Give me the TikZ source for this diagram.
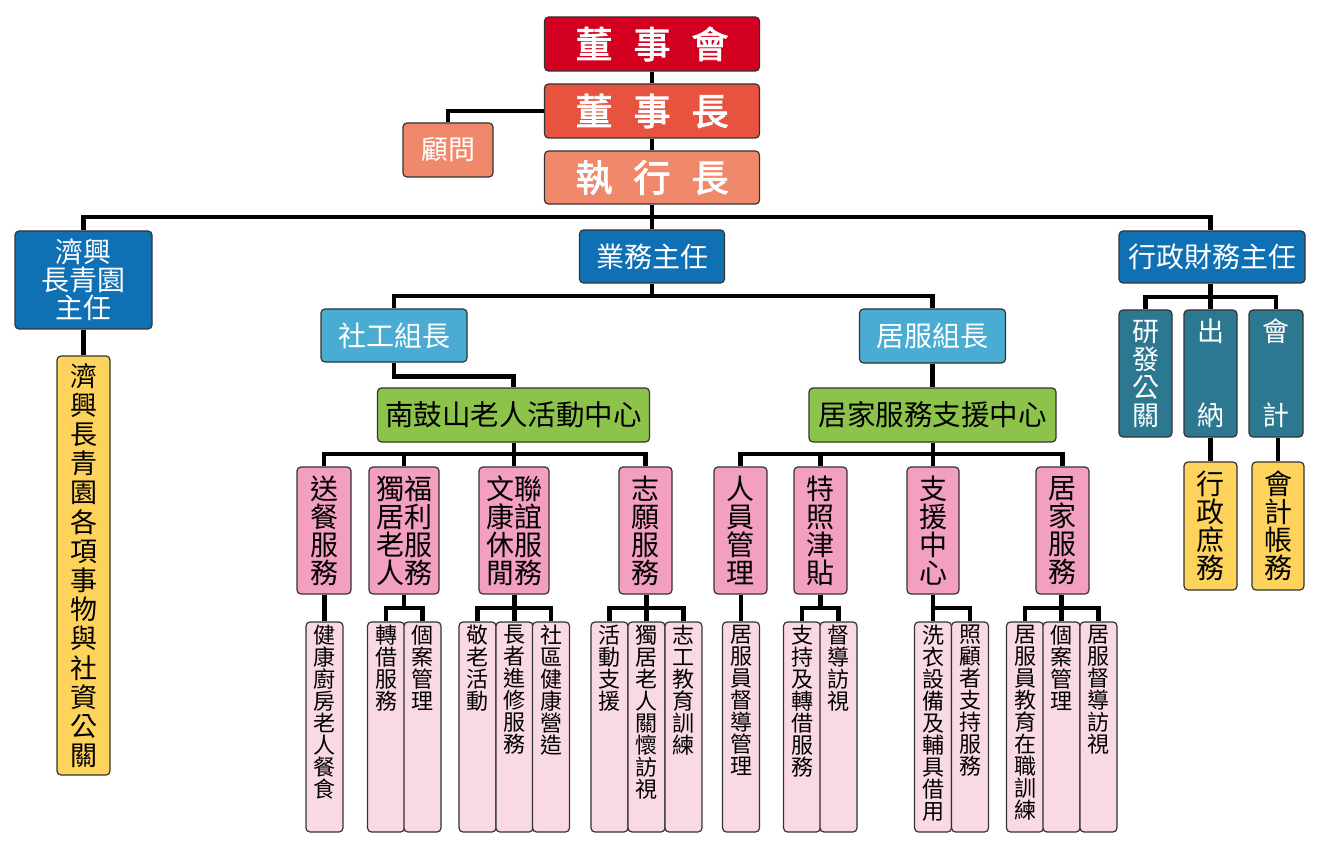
\documentclass[tikz,border=0pt]{standalone}
\usepackage{fontspec}
\setmainfont{Noto Sans CJK TC}
\newfontfamily\cjkbold{Noto Sans CJK TC}[FakeBold=2.5]
\definecolor{cRed}{HTML}{D3011F}
\definecolor{cRed2}{HTML}{E8533F}
\definecolor{cSalmon}{HTML}{F0896B}
\definecolor{cBlue}{HTML}{1070B4}
\definecolor{cLBlue}{HTML}{4BACD3}
\definecolor{cGreen}{HTML}{8DC34B}
\definecolor{cPink}{HTML}{F29FC0}
\definecolor{cLPink}{HTML}{FAD9E6}
\definecolor{cYellow}{HTML}{FED35B}
\definecolor{cTeal}{HTML}{2C7891}
\definecolor{cBorder}{HTML}{333333}
\newcommand\coltxt[1]{\parbox[c][210pt][t]{37pt}{\centering\vspace*{3pt}#1}}
\begin{document}
\begin{tikzpicture}[x=1pt,y=-1pt,
  box/.style={draw=cBorder, line width=1.2pt, rounded corners=4pt, inner sep=0pt, align=center},
  topbox/.style={box, minimum width=215, text=white, font=\cjkbold\fontsize{37}{40}\selectfont},
  bluebox/.style={box, fill=cBlue, text=white, font=\fontsize{28}{28}\selectfont},
  lbluebox/.style={box, fill=cLBlue, text=white, minimum width=146, font=\fontsize{28}{28}\selectfont},
  greenbox/.style={box, fill=cGreen, text=black, minimum height=54, font=\fontsize{28.5}{28}\selectfont},
  pinkbox/.style={box, fill=cPink, text=black, minimum height=127, font=\fontsize{28}{28}\selectfont},
  childbox/.style={box, fill=cLPink, text=black, minimum width=37, minimum height=210, font=\fontsize{22}{22}\selectfont},
  tealbox/.style={box, fill=cTeal, text=white, minimum width=53, minimum height=127, font=\fontsize{27}{28}\selectfont},
  yelbox/.style={box, fill=cYellow, text=black, minimum width=53, font=\fontsize{28}{28}\selectfont},
  conn/.style={line width=4.5pt, black}
]
\useasboundingbox (0,0) rectangle (1320,850);

% ---- top
\node[topbox, fill=cRed, minimum height=54] (dsh) at (652,44) {董\hspace{21pt}事\hspace{21pt}會};
\node[topbox, fill=cRed2, minimum height=54] (dsz) at (652,111) {董\hspace{21pt}事\hspace{21pt}長};
\node[box, fill=cSalmon, text=white, minimum width=90, minimum height=54, font=\fontsize{27}{28}\selectfont] (gw) at (448,150) {顧問};
\node[topbox, fill=cSalmon, minimum height=53] (zxz) at (652,177.5) {執\hspace{21pt}行\hspace{21pt}長};

% ---- second level
\node[bluebox, minimum width=137, minimum height=98] (jx) at (83.5,280) {濟興\\長青園\\主任};
\node[bluebox, minimum width=145, minimum height=53] (ywzr) at (652,256.5) {業務主任};
\node[bluebox, minimum width=186, minimum height=52] (xz) at (1212,257) {行政財務主任};

\node[yelbox, minimum height=419, font=\fontsize{27}{29.2}\selectfont] (jxy) at (83.5,565.5) {濟\\興\\長\\青\\園\\各\\項\\事\\物\\與\\社\\資\\公\\關};

% ---- group leaders
\node[lbluebox, minimum height=53] (sg) at (394,335.5) {社工組長};
\node[lbluebox, minimum height=54] (jf) at (932.5,336) {居服組長};

\node[greenbox, minimum width=272] (ngs) at (513.5,415) {南鼓山老人活動中心};
\node[greenbox, minimum width=247] (jjs) at (932.5,415) {居家服務支援中心};

% ---- pink parents
\node[pinkbox, minimum width=54] (p1) at (324,530.5) {送\\餐\\服\\務};
\node[pinkbox, minimum width=70] (p2) at (404,530.5) {獨福\\居利\\老服\\人務};
\node[pinkbox, minimum width=70] (p3) at (514,530.5) {文聯\\康誼\\休服\\閒務};
\node[pinkbox, minimum width=53] (p4) at (645.5,530.5) {志\\願\\服\\務};
\node[pinkbox, minimum width=53] (p5) at (740.5,530.5) {人\\員\\管\\理};
\node[pinkbox, minimum width=53] (p6) at (820.5,530.5) {特\\照\\津\\貼};
\node[pinkbox, minimum width=52] (p7) at (933,530.5) {支\\援\\中\\心};
\node[pinkbox, minimum width=53] (p8) at (1062.5,530.5) {居\\家\\服\\務};

% ---- children
\node[childbox] (c1) at (324.5,727) {\coltxt{健\\康\\廚\\房\\老\\人\\餐\\食}};
\node[childbox] (c2a) at (386,727) {\coltxt{轉\\借\\服\\務}};
\node[childbox] (c2b) at (422.5,727) {\coltxt{個\\案\\管\\理}};
\node[childbox] (c3a) at (477.5,727) {\coltxt{敬\\老\\活\\動}};
\node[childbox] (c3b) at (514.5,727) {\coltxt{長\\者\\進\\修\\服\\務}};
\node[childbox] (c3c) at (551,727) {\coltxt{社\\區\\健\\康\\營\\造}};
\node[childbox] (c4a) at (609.5,727) {\coltxt{活\\動\\支\\援}};
\node[childbox] (c4b) at (646.5,727) {\coltxt{獨\\居\\老\\人\\關\\懷\\訪\\視}};
\node[childbox] (c4c) at (683.5,727) {\coltxt{志\\工\\教\\育\\訓\\練}};
\node[childbox] (c5) at (741,727) {\coltxt{居\\服\\員\\督\\導\\管\\理}};
\node[childbox] (c6a) at (802,727) {\coltxt{支\\持\\及\\轉\\借\\服\\務}};
\node[childbox] (c6b) at (838.5,727) {\coltxt{督\\導\\訪\\視}};
\node[childbox] (c7a) at (933,727) {\coltxt{洗\\衣\\設\\備\\及\\輔\\具\\借\\用}};
\node[childbox] (c7b) at (970,727) {\coltxt{照\\顧\\者\\支\\持\\服\\務}};
\node[childbox] (c8a) at (1025,727) {\coltxt{居\\服\\員\\教\\育\\在\\職\\訓\\練}};
\node[childbox] (c8b) at (1061.5,727) {\coltxt{個\\案\\管\\理}};
\node[childbox] (c8c) at (1098.5,727) {\coltxt{居\\服\\督\\導\\訪\\視}};

% ---- admin branch
\node[tealbox] (t1) at (1145.5,373.5) {研\\發\\公\\關};
\node[tealbox] (t2) at (1210.5,373.5) {出\\~\\~\\納};
\node[tealbox, minimum width=54] (t3) at (1276,373.5) {會\\~\\~\\計};
\node[yelbox, minimum height=128] (y2) at (1210.5,526) {行\\政\\庶\\務};
\node[yelbox, minimum width=52, minimum height=128] (y3) at (1278,526) {會\\計\\帳\\務};

% ---- bus coordinates
\coordinate (b1) at (652,217);
\coordinate (b2) at (652,296);
\coordinate (bA) at (0,454);
\coordinate (bC) at (0,608);
\coordinate (bT) at (0,297);

% ---- connectors
\draw[conn] (dsh.south) -- (dsz.north);
\draw[conn] (dsz.south) -- (zxz.north);
\draw[conn] (dsz.west) -| (gw.north);
\draw[conn] (zxz.south) -- (ywzr.north);
\draw[conn] (jx.north) |- (b1) -| (t2.north |- xz.north);
\draw[conn] (jx.south) -- (jxy.north);
\draw[conn] (ywzr.south) -- (b2);
\draw[conn] (sg.north) |- (b2) -| (jf.north);
\draw[conn] (sg.south) -- ++(0,14) -| (ngs.north);
\draw[conn] (jf.south) -- (jjs.north);

\draw[conn] (p1.north) -- (p1.north |- bA) -- (p4.north |- bA) -- (p4.north);
\draw[conn] (p2.north) -- (p2.north |- bA);
\draw[conn] (p3.north) -- (p3.north |- ngs.south);
\draw[conn] (p5.north) -- (p5.north |- bA) -- (p8.north |- bA) -- (p8.north);
\draw[conn] (p6.north) -- (p6.north |- bA);
\draw[conn] (p7.north) -- (p7.north |- jjs.south);

\draw[conn] (c1.north) -- (c1.north |- p1.south);
\draw[conn] (p2.south) -- (p2.south |- bC);
\draw[conn] (c2a.north) -- (c2a.north |- bC) -- (c2b.north |- bC) -- (c2b.north);
\draw[conn] (c3a.north) -- (c3a.north |- bC) -- (c3c.north |- bC) -- (c3c.north);
\draw[conn] (c3b.north) -- (c3b.north |- p3.south);
\draw[conn] (c4a.north) -- (c4a.north |- bC) -- (c4c.north |- bC) -- (c4c.north);
\draw[conn] (c4b.north) -- (c4b.north |- p4.south);
\draw[conn] (c5.north) -- (c5.north |- p5.south);
\draw[conn] (p6.south) -- (p6.south |- bC);
\draw[conn] (c6a.north) -- (c6a.north |- bC) -- (c6b.north |- bC) -- (c6b.north);
\draw[conn] (c7a.north) -- (c7a.north |- p7.south);
\draw[conn] (c7a.north |- bC) -- (c7b.north |- bC) -- (c7b.north);
\draw[conn] (c8a.north) -- (c8a.north |- bC) -- (c8c.north |- bC) -- (c8c.north);
\draw[conn] (c8b.north) -- (c8b.north |- p8.south);

\draw[conn] (t2.north |- xz.south) -- (t2.north);
\draw[conn] (t1.north) -- (t1.north |- bT) -- (t3.north |- bT) -- (t3.north);
\draw[conn] (t2.south) -- (y2.north);
\draw[conn] (y3.north) -- (y3.north |- t3.south);
\end{tikzpicture}
\end{document}
